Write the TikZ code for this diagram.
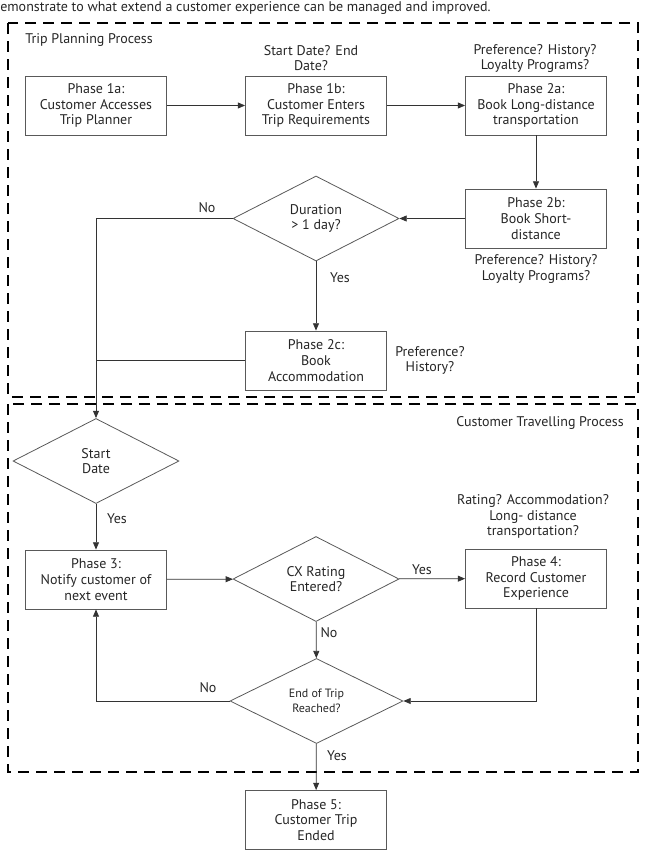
\documentclass[tikz,border=0pt]{standalone}
\usepackage{fontspec}
\setmainfont{PT Sans}
\usetikzlibrary{shapes.geometric,arrows.meta}
\begin{document}
\begin{tikzpicture}[x=0.75pt,y=-0.75pt,
  every node/.style={font=\fontsize{10.5}{11.8}\selectfont, text=black!85},
  proc/.style={draw=black!65, line width=0.6pt, rectangle, align=center,
    minimum width=105.75pt, minimum height=44.25pt, inner sep=1pt},
  decide/.style={draw=black!65, line width=0.6pt, diamond, align=center,
    minimum width=124.5pt, minimum height=63.75pt, inner sep=0pt},
  lbl/.style={align=center, inner sep=0pt},
  flow/.style={draw=black!80, line width=0.6pt, -{Triangle[length=5.5pt,width=4.5pt]}},
  plain/.style={draw=black!80, line width=0.6pt},
  frame/.style={draw=black, line width=2.2pt, dash pattern=on 8.5pt off 5pt}
]
\useasboundingbox (0,0) rectangle (645,860);

% frames
\draw[frame] (8,23) rectangle (638,397);
\draw[frame] (8,404) rectangle (638,772);

% top text
\node[lbl, anchor=west] (toptext) at (0,8) {emonstrate to what extend a customer experience can be managed and improved.};

\node[lbl, anchor=west] (tpp) at (25,40) {Trip Planning Process};
\node[lbl, anchor=east] (ctp) at (624,423) {Customer Travelling Process};

% boxes
\node[proc] (b1a) at (96,105.5) {Phase 1a:\\Customer Accesses\\Trip Planner};
\node[proc] (b1b) at (316,105.5) {Phase 1b:\\Customer Enters\\Trip Requirements};
\node[proc] (b2a) at (536,105.5) {Phase 2a:\\Book Long-distance\\transportation};
\node[proc] (b2b) at (536,218.5) {Phase 2b:\\Book Short-\\distance};
\node[proc] (b2c) at (316,360.5) {Phase 2c:\\Book\\Accommodation};
\node[proc] (b3) at (96,579.5) {Phase 3:\\Notify customer of\\next event};
\node[proc] (b4) at (536,578.5) {Phase 4:\\Record Customer\\Experience};
\node[proc] (b5) at (316,820) {Phase 5:\\Customer Trip\\Ended};

% decisions
\node[decide] (dur) at (316,218.5) {Duration\\> 1 day?};
\node[decide] (start) at (96,461) {Start\\Date};
\node[decide] (cx) at (316,579) {CX Rating\\Entered?};
\node[decide, minimum width=129.75pt, font=\fontsize{9}{11.2}\selectfont] (end) at (316.5,701) {End of Trip\\Reached?};

% annotations
\node[lbl] (n1b) at (311,58) {Start Date? End\\Date?};
\node[lbl] (n2a) at (535,58.5) {Preference? History?\\Loyalty Programs?};
\node[lbl] (n2b) at (536,269) {Preference? History?\\Loyalty Programs?};
\node[lbl] (n2c) at (430,360.5) {Preference?\\History?};
\node[lbl] (n4) at (533,516.5) {Rating? Accommodation?\\Long- distance\\transportation?};

% connectors
\draw[flow] (b1a) -- (b1b);
\draw[flow] (b1b) -- (b2a);
\draw[flow] (b2a) -- (b2b);
\draw[flow] (b2b) -- (dur);
\draw[flow] (dur) -- (b2c);
\draw[flow] (dur.west) -| (start.north);
\coordinate (j2) at (b2c.west -| start.north);
\draw[plain] (b2c.west) -- (j2);
\draw[flow] (start) -- (b3);
\draw[flow] (b3) -- (cx);
\draw[flow] (cx) -- (b4);
\draw[flow] (cx) -- (end);
\draw[flow] (b4.south) |- (end.east);
\draw[flow] (end.west) -| (b3.south);
\draw[flow] (end) -- (b5);

% branch labels
\node[lbl] (no1) at (207,208) {No};
\node[lbl] (yes1) at (340,278) {Yes};
\node[lbl] (yes2) at (117,519) {Yes};
\node[lbl] (yes3) at (422,570) {Yes};
\node[lbl] (no2) at (329,633) {No};
\node[lbl] (no3) at (208,688) {No};
\node[lbl] (yes4) at (337,756) {Yes};
\end{tikzpicture}
\end{document}
